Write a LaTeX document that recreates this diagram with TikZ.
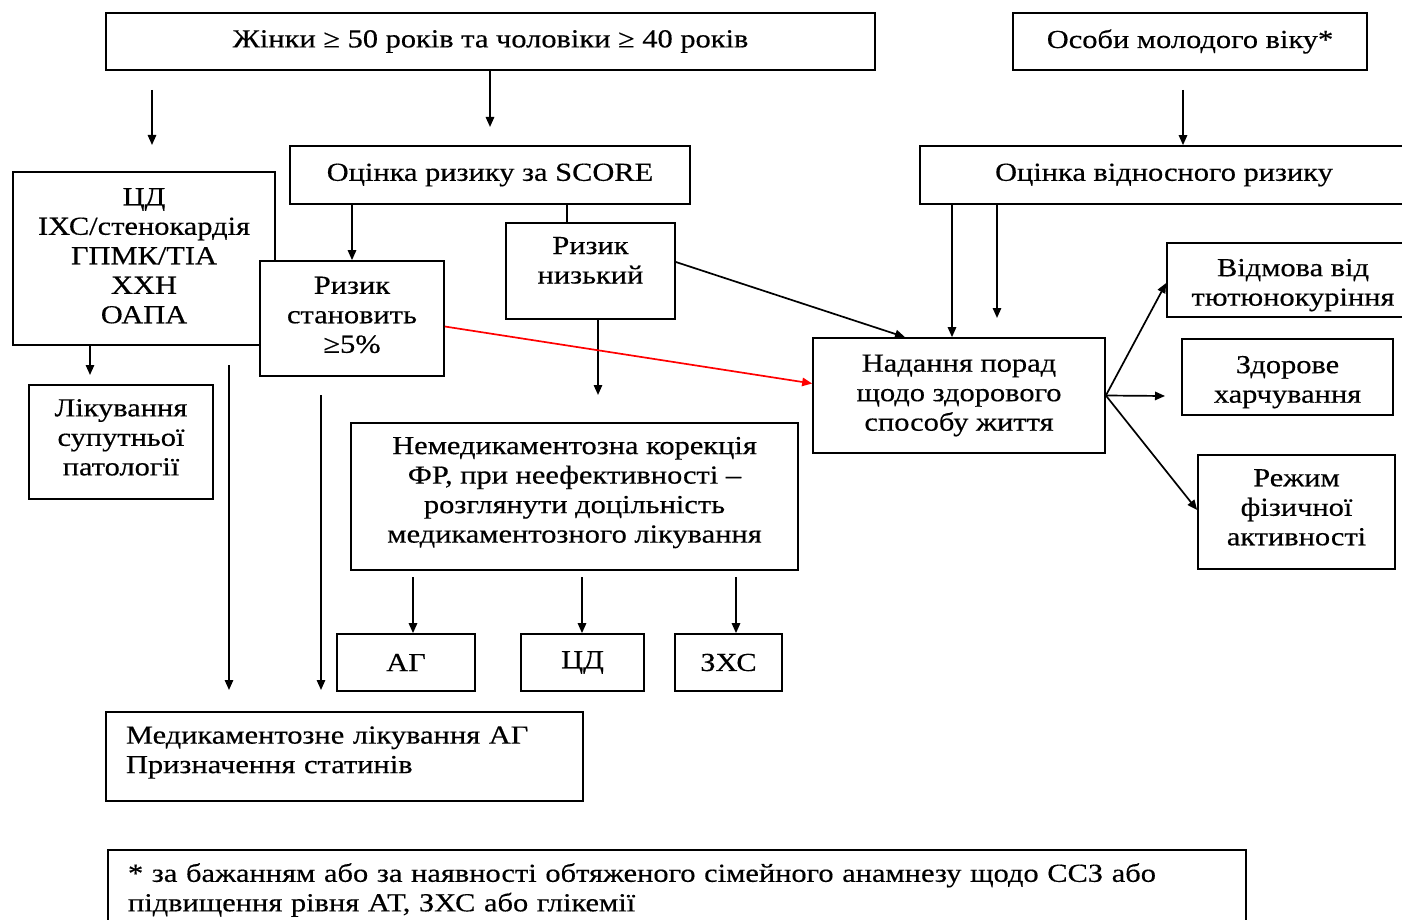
\documentclass[tikz,border=0pt]{standalone}
\usepackage{fontspec}
\setmainfont{Liberation Serif}[FakeStretch=1.17,FakeBold=0.4]
\usetikzlibrary{arrows.meta,calc}
\begin{document}
\begin{tikzpicture}[x=0.5pt,y=-0.5pt,
  box/.style={draw, fill=white, line width=0.85pt, inner sep=0pt, align=center,
    font=\fontsize{13}{14.75}\selectfont},
  arr/.style={line width=0.85pt, -{Triangle[length=5pt,width=4.2pt]}},
  plain/.style={line width=0.85pt},
  redarr/.style={arr, draw=red}]
\useasboundingbox (0,0) rectangle (1402,920);
% boxes
\node[box, minimum width=384.5pt, minimum height=28.5pt] (w50) at (490.5,41.5) {Жінки ≥ 50 років та чоловіки ≥ 40 років};
\node[box, minimum width=177pt, minimum height=28.5pt] (young) at (1190,41.5) {Особи молодого віку*};
\node[box, minimum width=200pt, minimum height=29pt] (score) at (490,175) {Оцінка ризику за SCORE};
\node[box, minimum width=244pt, minimum height=29pt] (rel) at (1164,175) {Оцінка відносного ризику};
\node[box, minimum width=131pt, minimum height=86.5pt] (cd) at (144,258.5) {ЦД\\ІХС/стенокардія\\ГПМК/ТІА\\ХХН\\ОАПА\\[-12pt]~};
\node[box, minimum width=92pt, minimum height=57.5pt] (high) at (352,318.5) {Ризик\\становить\\≥5\%\\[-11pt]~};
\node[box, minimum width=84.5pt, minimum height=48pt] (low) at (590.5,271) {Ризик\\низький\\[-4pt]~};
\node[box, minimum width=92pt, minimum height=57pt] (lsp) at (121,442) {Лікування\\супутньої\\патології\\[-10pt]~};
\node[box, minimum width=223.5pt, minimum height=73.5pt] (nonmed) at (574.5,496.5) {Немедикаментозна корекція\\ФР, при неефективності –\\розглянути доцільність\\медикаментозного лікування\\[-8pt]~};
\node[box, minimum width=69pt, minimum height=28.5pt] (ag) at (406,662.5) {АГ};
\node[box, minimum width=61.5pt, minimum height=28.5pt] (cd2) at (582.5,662.5) {ЦД};
\node[box, minimum width=53.5pt, minimum height=28.5pt] (zhs) at (728.5,662.5) {ЗХС};
\node[box, minimum width=238.5pt, minimum height=44.5pt, text width=218.5pt, align=left, inner xsep=10pt] (med) at (344.5,756.5) {Медикаментозне лікування АГ\\Призначення статинів\\[-8pt]~};
\node[box, minimum width=146pt, minimum height=57.5pt] (advice) at (959,395.5) {Надання порад\\щодо здорового\\способу життя};
\node[box, minimum width=126pt, minimum height=37pt] (smoke) at (1293,280) {~\\[-1pt]Відмова від\\тютюнокуріння};
\node[box, minimum width=105.5pt, minimum height=38pt] (food) at (1287.5,377) {~\\[-1pt]Здорове\\харчування};
\node[box, minimum width=98.5pt, minimum height=57pt] (phys) at (1296.5,512) {Режим\\фізичної\\активності\\[-10pt]~};
\node[box, minimum width=569pt, minimum height=45pt, text width=549pt, align=left, inner xsep=10pt] (note) at (677,895) {* за бажанням або за наявності обтяженого сімейного анамнезу щодо ССЗ або\\підвищення рівня АТ, ЗХС або глікемії\\[-7pt]~};
% free ends
\coordinate (c1s) at (152,90);
\coordinate (c1e) at (152,145);
\coordinate (c2e) at (490,127);
\coordinate (c3s) at (1183,90);
\coordinate (c5x) at (567,0);
\coordinate (c6e) at (598,395);
\coordinate (c7e) at (905,0);
\coordinate (c9x) at (952,0);
\coordinate (c10x) at (997,0);
\coordinate (c10e) at (997,318);
\coordinate (c11e) at (1165,396);
\coordinate (c12x) at (90,0);
\coordinate (c12e) at (90,375);
\coordinate (c13s) at (229,365);
\coordinate (c13e) at (229,690);
\coordinate (c14s) at (321,395);
\coordinate (c14e) at (321,690);
\coordinate (c15a) at (413,577);
\coordinate (c15b) at (582,577);
\coordinate (c15c) at (736,577);
% connectors
\draw[arr] (c1s) -- (c1e);
\draw[arr] (c2e |- w50.south) -- (c2e);
\draw[arr] (c3s) -- (c3s |- rel.north);
\draw[arr] (high.north |- score.south) -- (high.north);
\draw[plain] (c5x |- score.south) -- (c5x |- low.north);
\draw[arr] (c6e |- low.south) -- (c6e);
\draw[arr] ($(low.east)+(0,-9)$) -- (c7e |- advice.north);
\draw[redarr] ($(high.east)+(0,8)$) -- ($(advice.west)+(0,-12)$);
\draw[arr] (c9x |- rel.south) -- (c9x |- advice.north);
\draw[arr] (c10x |- rel.south) -- (c10e);
\draw[arr] (advice.east) -- ($(smoke.west)+(0,3)$);
\draw[arr] (advice.east) -- (c11e);
\draw[arr] (advice.east) -- ($(phys.west)+(0,-2)$);
\draw[arr] (c12x |- cd.south) -- (c12e);
\draw[arr] (c13s) -- (c13e);
\draw[arr] (c14s) -- (c14e);
\draw[arr] (c15a) -- (c15a |- ag.north);
\draw[arr] (c15b) -- (c15b |- cd2.north);
\draw[arr] (c15c) -- (c15c |- zhs.north);
\end{tikzpicture}
\end{document}
